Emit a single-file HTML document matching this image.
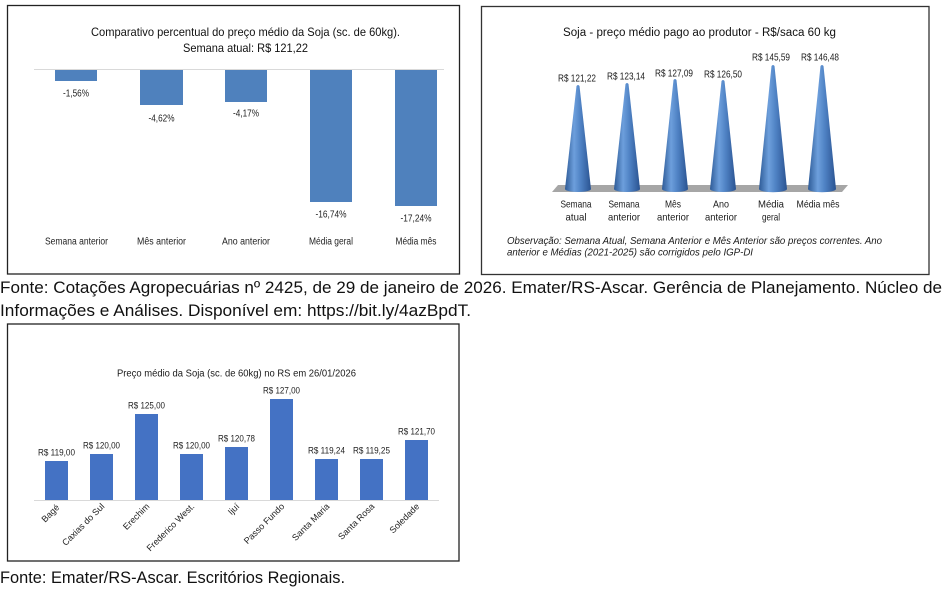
<!DOCTYPE html>
<html><head><meta charset="utf-8"><style>
html,body{margin:0;padding:0;background:#fff;}
svg{display:block;}
text{font-family:"Liberation Sans",sans-serif;}
</style></head><body>
<svg width="947" height="602" viewBox="0 0 947 602" xmlns="http://www.w3.org/2000/svg">
<defs>
<linearGradient id="cone" x1="0" y1="0" x2="1" y2="0">
<stop offset="0" stop-color="#2d5a96"/>
<stop offset="0.35" stop-color="#6d9fdc"/>
<stop offset="0.6" stop-color="#4f82c4"/>
<stop offset="1" stop-color="#2a5391"/>
</linearGradient>
</defs>
<rect width="947" height="602" fill="#fff"/>

<!-- Chart 1 -->
<rect x="7.5" y="5.5" width="452" height="268.5" fill="#fff" stroke="#222" stroke-width="1.3"/>
<text x="91" y="36" font-size="12" fill="#111" textLength="309" lengthAdjust="spacingAndGlyphs">Comparativo percentual do preço médio da Soja (sc. de 60kg).</text>
<text x="183" y="52" font-size="12" fill="#111" textLength="125" lengthAdjust="spacingAndGlyphs">Semana atual:  R$ 121,22</text>
<line x1="34" y1="69.5" x2="444" y2="69.5" stroke="#d9d9d9" stroke-width="1"/>
<g fill="#4f81bd">
<rect x="55" y="70" width="42" height="11"/>
<rect x="140" y="70" width="43" height="35"/>
<rect x="225" y="70" width="42" height="32"/>
<rect x="310" y="70" width="42" height="132"/>
<rect x="395" y="70" width="42" height="136"/>
</g>
<g font-size="10" fill="#222" text-anchor="middle">
<text x="76" y="96.5" textLength="26" lengthAdjust="spacingAndGlyphs">-1,56%</text>
<text x="161.5" y="121.5" textLength="26" lengthAdjust="spacingAndGlyphs">-4,62%</text>
<text x="246" y="116.5" textLength="26" lengthAdjust="spacingAndGlyphs">-4,17%</text>
<text x="331" y="217.5" textLength="31" lengthAdjust="spacingAndGlyphs">-16,74%</text>
<text x="416" y="221.5" textLength="31" lengthAdjust="spacingAndGlyphs">-17,24%</text>
<text x="76.5" y="244.5" textLength="63" lengthAdjust="spacingAndGlyphs">Semana anterior</text>
<text x="161.5" y="244.5" textLength="49" lengthAdjust="spacingAndGlyphs">Mês anterior</text>
<text x="246" y="244.5" textLength="48" lengthAdjust="spacingAndGlyphs">Ano anterior</text>
<text x="331" y="244.5" textLength="44" lengthAdjust="spacingAndGlyphs">Média geral</text>
<text x="416" y="244.5" textLength="41" lengthAdjust="spacingAndGlyphs">Média mês</text>
</g>

<!-- Chart 2 -->
<rect x="481.5" y="6.5" width="447.5" height="268" fill="#fff" stroke="#333" stroke-width="1.3"/>
<text x="563" y="36" font-size="11.5" fill="#111" textLength="273" lengthAdjust="spacingAndGlyphs">Soja - preço médio pago ao produtor  - R$/saca 60 kg</text>
<polygon points="558,185 848,185 842,192 552,192" fill="#a6a6a6"/>
<g fill="url(#cone)">
<path d="M565,189 L576.5,86 Q578,84 579.5,86 L591,189 A13,3 0 0 1 565,189 Z"/>
<path d="M614,189 L625.5,84 Q627,82 628.5,84 L640,189 A13,3 0 0 1 614,189 Z"/>
<path d="M662,189 L673.5,80 Q675,78 676.5,80 L688,189 A13,3 0 0 1 662,189 Z"/>
<path d="M710,189 L721.5,81 Q723,79 724.5,81 L736,189 A13,3 0 0 1 710,189 Z"/>
<path d="M759,189 L771.5,66 Q773,64 774.5,66 L787,189 A13,3 0 0 1 759,189 Z"/>
<path d="M808,189 L820.5,66 Q822,64 823.5,66 L836,189 A13,3 0 0 1 808,189 Z"/>
</g>
<g font-size="10.5" fill="#1a1a1a" text-anchor="middle">
<text x="577" y="81.5" textLength="38" lengthAdjust="spacingAndGlyphs">R$ 121,22</text>
<text x="626" y="79.5" textLength="38" lengthAdjust="spacingAndGlyphs">R$ 123,14</text>
<text x="674" y="76.5" textLength="38" lengthAdjust="spacingAndGlyphs">R$ 127,09</text>
<text x="723" y="77.5" textLength="38" lengthAdjust="spacingAndGlyphs">R$ 126,50</text>
<text x="771" y="60.5" textLength="38" lengthAdjust="spacingAndGlyphs">R$ 145,59</text>
<text x="820" y="60.5" textLength="38" lengthAdjust="spacingAndGlyphs">R$ 146,48</text>
<text x="576" y="207.5" textLength="31" lengthAdjust="spacingAndGlyphs">Semana</text>
<text x="576" y="220.5" textLength="21" lengthAdjust="spacingAndGlyphs">atual</text>
<text x="624" y="207.5" textLength="31" lengthAdjust="spacingAndGlyphs">Semana</text>
<text x="624" y="220.5" textLength="32" lengthAdjust="spacingAndGlyphs">anterior</text>
<text x="673" y="207.5" textLength="16" lengthAdjust="spacingAndGlyphs">Mês</text>
<text x="673" y="220.5" textLength="32" lengthAdjust="spacingAndGlyphs">anterior</text>
<text x="721" y="207.5" textLength="16" lengthAdjust="spacingAndGlyphs">Ano</text>
<text x="721" y="220.5" textLength="32" lengthAdjust="spacingAndGlyphs">anterior</text>
<text x="771" y="207.5" textLength="26" lengthAdjust="spacingAndGlyphs">Média</text>
<text x="771" y="220.5" textLength="18" lengthAdjust="spacingAndGlyphs">geral</text>
<text x="818" y="207.5" textLength="43" lengthAdjust="spacingAndGlyphs">Média mês</text>
</g>
<g font-size="10" fill="#1a1a1a" font-style="italic">
<text x="507" y="244" textLength="375" lengthAdjust="spacingAndGlyphs">Observação: Semana Atual, Semana Anterior e Mês Anterior são preços correntes.  Ano</text>
<text x="507" y="255.5" textLength="246" lengthAdjust="spacingAndGlyphs">anterior  e Médias (2021-2025) são corrigidos pelo IGP-DI</text>
</g>

<!-- Fonte 1 -->
<text x="0" y="293" font-size="16.5" fill="#111" textLength="942" lengthAdjust="spacingAndGlyphs">Fonte: Cotações Agropecuárias nº 2425, de 29 de janeiro de 2026. Emater/RS-Ascar. Gerência de Planejamento. Núcleo de</text>
<text x="0" y="316" font-size="16.5" fill="#111" textLength="471" lengthAdjust="spacingAndGlyphs">Informações e Análises. Disponível em: https://bit.ly/4azBpdT.</text>

<!-- Chart 3 -->
<rect x="7.5" y="324" width="451.5" height="237" fill="#fff" stroke="#222" stroke-width="1.3"/>
<text x="117" y="376.5" font-size="10" fill="#1a1a1a" textLength="239" lengthAdjust="spacingAndGlyphs">Preço médio da Soja (sc. de 60kg) no RS em 26/01/2026</text>
<line x1="34" y1="500.5" x2="439" y2="500.5" stroke="#d9d9d9" stroke-width="1"/>
<g fill="#4472c4">
<rect x="45" y="461" width="23" height="39"/>
<rect x="90" y="454" width="23" height="46"/>
<rect x="135" y="414" width="23" height="86"/>
<rect x="180" y="454" width="23" height="46"/>
<rect x="225" y="447" width="23" height="53"/>
<rect x="270" y="399" width="23" height="101"/>
<rect x="315" y="459" width="23" height="41"/>
<rect x="360" y="459" width="23" height="41"/>
<rect x="405" y="440" width="23" height="60"/>
</g>
<g font-size="9.5" fill="#222" text-anchor="middle">
<text x="56.5" y="455.5" textLength="37" lengthAdjust="spacingAndGlyphs">R$ 119,00</text>
<text x="101.5" y="448.5" textLength="37" lengthAdjust="spacingAndGlyphs">R$ 120,00</text>
<text x="146.5" y="408.5" textLength="37" lengthAdjust="spacingAndGlyphs">R$ 125,00</text>
<text x="191.5" y="448.5" textLength="37" lengthAdjust="spacingAndGlyphs">R$ 120,00</text>
<text x="236.5" y="441.5" textLength="37" lengthAdjust="spacingAndGlyphs">R$ 120,78</text>
<text x="281.5" y="393.5" textLength="37" lengthAdjust="spacingAndGlyphs">R$ 127,00</text>
<text x="326.5" y="453.5" textLength="37" lengthAdjust="spacingAndGlyphs">R$ 119,24</text>
<text x="371.5" y="453.5" textLength="37" lengthAdjust="spacingAndGlyphs">R$ 119,25</text>
<text x="416.5" y="434.5" textLength="37" lengthAdjust="spacingAndGlyphs">R$ 121,70</text>
</g>
<g font-size="9" fill="#222" text-anchor="end">
<text transform="translate(60,508) rotate(-45)">Bagé</text>
<text transform="translate(105,507) rotate(-45)">Caxias do Sul</text>
<text transform="translate(150,507) rotate(-45)">Erechim</text>
<text transform="translate(195,507) rotate(-45)">Frederico West.</text>
<text transform="translate(240,507) rotate(-45)">Ijuí</text>
<text transform="translate(285,507) rotate(-45)">Passo Fundo</text>
<text transform="translate(330,507) rotate(-45)">Santa Maria</text>
<text transform="translate(375,507) rotate(-45)">Santa Rosa</text>
<text transform="translate(420,507) rotate(-45)">Soledade</text>
</g>

<!-- Fonte 2 -->
<text x="0" y="583" font-size="16.5" fill="#111" textLength="345" lengthAdjust="spacingAndGlyphs">Fonte: Emater/RS-Ascar. Escritórios Regionais.</text>
</svg>
</body></html>
